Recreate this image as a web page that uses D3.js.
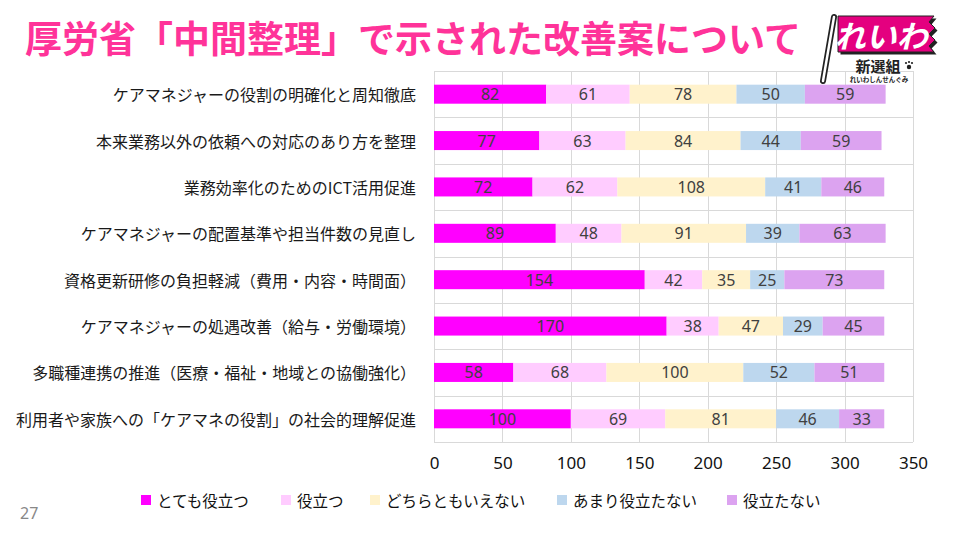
<!DOCTYPE html>
<html>
<head>
<meta charset="utf-8">
<script src="https://cdn.jsdelivr.net/npm/d3@7"></script>
<style>
  body { margin: 0; background: #fff; }
  svg { display: block; font-family: "Noto Sans CJK JP", "Noto Sans", sans-serif; }
</style>
</head>
<body>
<svg id="chart" width="960" height="540"></svg>
<script>
// data
var categories = [
  "ケアマネジャーの役割の明確化と周知徹底",
  "本来業務以外の依頼への対応のあり方を整理",
  "業務効率化のためのICT活用促進",
  "ケアマネジャーの配置基準や担当件数の見直し",
  "資格更新研修の負担軽減（費用・内容・時間面）",
  "ケアマネジャーの処遇改善（給与・労働環境）",
  "多職種連携の推進（医療・福祉・地域との協働強化）",
  "利用者や家族への「ケアマネの役割」の社会的理解促進"
];
var seriesNames = ["とても役立つ", "役立つ", "どちらともいえない", "あまり役立たない", "役立たない"];
var veryUseful   = [82, 77, 72, 89, 154, 170, 58, 100];
var useful       = [61, 63, 62, 48, 42, 38, 68, 69];
var neutral      = [78, 84, 108, 91, 35, 47, 100, 81];
var notVery      = [50, 44, 41, 39, 25, 29, 52, 46];
var notUseful    = [59, 59, 46, 63, 73, 45, 51, 33];
var xTicks = [0, 50, 100, 150, 200, 250, 300, 350];
var colors = ["#ff00ff", "#ffccff", "#fff2cc", "#bdd7ee", "#dca3f0"];

var svg = d3.select("#chart");

// title
svg.append("text")
  .attr("x", 25).attr("y", 37)
  .attr("dominant-baseline", "central")
  .attr("font-size", 37).attr("font-weight", "bold")
  .attr("fill", "#ff3399")
  .text("厚労省「中間整理」で示された改善案について");

var plotL = 434, plotR = 913, plotT = 71, plotB = 442;

var x = d3.scaleLinear().domain([0, 350]).range([plotL, plotR]);
var y = d3.scaleBand().domain(categories).range([plotT, plotB])
  .paddingInner(0.59).paddingOuter(0.295);

// grid
var grid = svg.append("g").attr("stroke", "#d9d9d9").attr("stroke-width", 1);
grid.selectAll("line.v").data(xTicks).join("line")
  .attr("class", "v")
  .attr("x1", d => Math.round(x(d)) + 0.5).attr("x2", d => Math.round(x(d)) + 0.5)
  .attr("y1", plotT).attr("y2", plotB);
grid.selectAll("line.h").data(d3.range(categories.length + 1)).join("line")
  .attr("class", "h")
  .attr("x1", plotL).attr("x2", plotR)
  .attr("y1", d => Math.round(plotT + d * y.step()) + 0.5)
  .attr("y2", d => Math.round(plotT + d * y.step()) + 0.5);

// stack the series
var rows = categories.map(function(c, i) {
  return { cat: c, s0: veryUseful[i], s1: useful[i], s2: neutral[i], s3: notVery[i], s4: notUseful[i] };
});
var stack = d3.stack().keys(["s0", "s1", "s2", "s3", "s4"]);
var layers = stack(rows);

var layerG = svg.selectAll("g.layer").data(layers).join("g")
  .attr("class", "layer")
  .attr("fill", (d, i) => colors[i]);

layerG.selectAll("rect").data(d => d).join("rect")
  .attr("x", d => x(d[0]))
  .attr("width", d => x(d[1]) - x(d[0]))
  .attr("y", d => y(d.data.cat))
  .attr("height", y.bandwidth());

layerG.selectAll("text").data(d => d).join("text")
  .attr("x", d => (x(d[0]) + x(d[1])) / 2)
  .attr("y", d => y(d.data.cat) + y.bandwidth() / 2)
  .attr("text-anchor", "middle")
  .attr("dominant-baseline", "central")
  .attr("font-size", 16)
  .attr("fill", "#404040")
  .attr("font-family", "\"Noto Sans\", sans-serif")
  .text(d => d[1] - d[0]);

// category labels
svg.append("g").selectAll("text").data(categories).join("text")
  .attr("x", 416)
  .attr("y", d => y(d) + y.bandwidth() / 2)
  .attr("text-anchor", "end")
  .attr("dominant-baseline", "central")
  .attr("font-size", 16)
  .attr("fill", "#1a1a1a")
  .text(d => d);

// x axis labels
var xAxis = svg.append("g")
  .attr("transform", "translate(0," + (plotB + 5) + ")")
  .call(d3.axisBottom(x).tickValues(xTicks).tickSize(0).tickPadding(10));
xAxis.select(".domain").remove();
xAxis.selectAll("text")
  .attr("font-size", 17)
  .attr("fill", "#111")
  .attr("font-family", "\"Noto Sans\", sans-serif");

// legend
var legendX = [141, 281, 370, 557, 727];
var legend = svg.append("g").selectAll("g").data(seriesNames).join("g")
  .attr("transform", (d, i) => "translate(" + legendX[i] + ",500)");
legend.append("rect")
  .attr("x", 0).attr("y", -5).attr("width", 10).attr("height", 10)
  .attr("fill", (d, i) => colors[i]);
legend.append("text")
  .attr("x", 16).attr("y", 0)
  .attr("dominant-baseline", "central")
  .attr("font-size", 15.5)
  .attr("fill", "#111")
  .text(d => d);

// page number
svg.append("text")
  .attr("x", 20).attr("y", 513)
  .attr("dominant-baseline", "central")
  .attr("font-size", 16)
  .attr("fill", "#888")
  .attr("font-family", "\"Noto Sans\", sans-serif")
  .text("27");

// logo
var logo = svg.append("g");
logo.append("line")
  .attr("x1", 834).attr("y1", 17).attr("x2", 823).attr("y2", 81)
  .attr("stroke", "#222").attr("stroke-width", 6).attr("stroke-linecap", "round");
logo.append("line")
  .attr("x1", 834).attr("y1", 17).attr("x2", 823).attr("y2", 81)
  .attr("stroke", "#fff").attr("stroke-width", 2.5).attr("stroke-linecap", "round");
logo.append("polygon")
  .attr("points", "839,17 935,17 930,23 936,29 930,35 936,41 930,47 935,53 839,53")
  .attr("fill", "#222").attr("transform", "translate(1.5,1.5)");
logo.append("polygon")
  .attr("points", "838,16 934,16 929,22 935,28 929,34 935,40 929,46 934,52 838,52")
  .attr("fill", "#e4007f").attr("stroke", "#222").attr("stroke-width", 1);
logo.append("text")
  .attr("x", 881).attr("y", 34)
  .attr("text-anchor", "middle").attr("dominant-baseline", "central")
  .attr("font-size", 31).attr("font-weight", "bold").attr("font-style", "italic")
  .attr("fill", "#fff")
  .text("れいわ");
logo.append("text")
  .attr("x", 878).attr("y", 65)
  .attr("text-anchor", "middle").attr("dominant-baseline", "central")
  .attr("font-size", 15).attr("font-weight", "bold")
  .attr("fill", "#222")
  .text("新選組");
logo.selectAll("circle").data([[909, 67, 2.2], [906, 63, 1.1], [909, 62, 1.1], [912, 63, 1.1]]).join("circle")
  .attr("cx", d => d[0]).attr("cy", d => d[1]).attr("r", d => d[2])
  .attr("fill", "#222");
logo.append("text")
  .attr("x", 879).attr("y", 79)
  .attr("text-anchor", "middle").attr("dominant-baseline", "central")
  .attr("font-size", 6.5).attr("font-weight", "bold")
  .attr("fill", "#222")
  .text("れいわしんせんぐみ");
</script>
</body>
</html>
